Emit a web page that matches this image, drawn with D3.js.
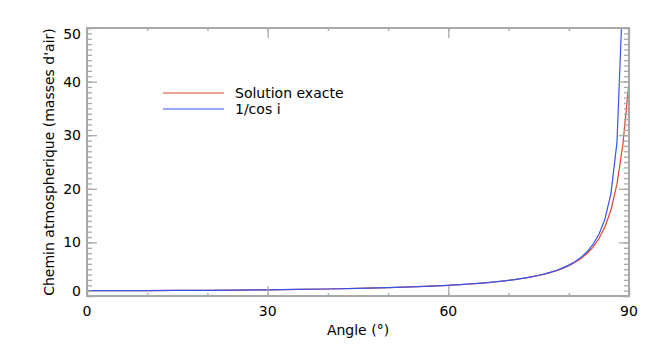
<!DOCTYPE html>
<html>
<head>
<meta charset="utf-8">
<script src="https://cdn.jsdelivr.net/npm/d3@7"></script>
<style>
  body { margin: 0; background: #fff; }
  text { font-family: "DejaVu Sans", sans-serif; fill: #000; }
</style>
</head>
<body>
<div id="chart"></div>
<script>
// angles (degrees) and air mass values
const angles = [0, 5, 10, 15, 20, 25, 30, 35, 40, 45, 50, 55, 60,
  61, 62, 63, 64, 65, 66, 67, 68, 69, 70, 71, 72, 73, 74, 75,
  76, 77, 78, 79, 80, 81, 82, 83, 84, 85, 86, 87, 88, 89, 90];

const exacte = [1.000, 1.004, 1.015, 1.035, 1.064, 1.103, 1.154, 1.220, 1.305, 1.413, 1.554, 1.741, 1.996,
  2.058, 2.125, 2.197, 2.275, 2.359, 2.451, 2.550, 2.659, 2.779, 2.910, 3.055, 3.217, 3.398, 3.601, 3.832,
  4.094, 4.394, 4.746, 5.158, 5.648, 6.243, 6.974, 7.891, 9.082, 10.67, 12.86, 16.05, 20.87, 28.42, 40.0];

const invCos = [1.000, 1.004, 1.015, 1.035, 1.064, 1.103, 1.155, 1.221, 1.305, 1.414, 1.556, 1.743, 2.000,
  2.063, 2.130, 2.203, 2.281, 2.366, 2.459, 2.559, 2.669, 2.790, 2.924, 3.072, 3.236, 3.420, 3.628, 3.864,
  4.134, 4.445, 4.810, 5.241, 5.759, 6.392, 7.185, 8.206, 9.567, 11.47, 14.34, 19.11, 28.65, 57.30];

const seriesNames = ["Solution exacte", "1/cos i"];
const seriesColors = ["#e0442c", "#3355f0"];
const xTicks = [0, 30, 60, 90];
const yTicks = [0, 10, 20, 30, 40, 50];

const W = 655, H = 351;
const margin = {top: 28, right: 26, bottom: 55, left: 87};
const width = W - margin.left - margin.right,
      height = H - margin.top - margin.bottom;

const svg = d3.select("#chart").append("svg")
    .attr("width", W)
    .attr("height", H);

const g = svg.append("g")
    .attr("transform", `translate(${margin.left},${margin.top})`);

const x = d3.scaleLinear().domain([0, 90]).range([0, width]);
const y = d3.scaleLinear().domain([0, 50]).range([height, 0]);

g.append("clipPath").attr("id", "clip")
  .append("rect").attr("width", width).attr("height", height);

const line = d3.line()
    .x((d, i) => x(angles[i]))
    .y(d => y(d));

const series = [exacte, invCos];
series.forEach((vals, k) => {
  g.append("path")
    .datum(vals)
    .attr("clip-path", "url(#clip)")
    .attr("fill", "none")
    .attr("stroke", seriesColors[k])
    .attr("stroke-width", 1.2)
    .attr("d", line);
});

// axes: IDL-like box with ticks on all sides
const axisColor = "#a8a8a8";
function styleAxis(sel) {
  sel.select(".domain").remove();
  sel.selectAll("line").attr("stroke", axisColor).attr("stroke-width", 1.3);
  sel.selectAll("text").remove();
}

const xMinor = d3.range(0, 91, 10);
const yMinor = d3.range(0, 51, 1);

g.append("g").attr("transform", `translate(0,${height})`)
  .call(d3.axisBottom(x).tickValues(xMinor).tickSize(-3)).call(styleAxis);
g.append("g").attr("transform", `translate(0,${height})`)
  .call(d3.axisBottom(x).tickValues(xTicks).tickSize(-10)).call(styleAxis);
g.append("g")
  .call(d3.axisTop(x).tickValues(xMinor).tickSize(-3)).call(styleAxis);
g.append("g")
  .call(d3.axisTop(x).tickValues(xTicks).tickSize(-10)).call(styleAxis);

g.append("g")
  .call(d3.axisLeft(y).tickValues(yMinor).tickSize(-5)).call(styleAxis);
g.append("g")
  .call(d3.axisLeft(y).tickValues(yTicks).tickSize(-10)).call(styleAxis);
g.append("g").attr("transform", `translate(${width},0)`)
  .call(d3.axisRight(y).tickValues(yMinor).tickSize(-5)).call(styleAxis);
g.append("g").attr("transform", `translate(${width},0)`)
  .call(d3.axisRight(y).tickValues(yTicks).tickSize(-10)).call(styleAxis);

g.append("rect")
  .attr("width", width).attr("height", height)
  .attr("fill", "none")
  .attr("stroke", axisColor)
  .attr("stroke-width", 2);

// tick labels
g.selectAll(".xl").data(xTicks).enter().append("text")
  .attr("class", "xl")
  .attr("x", d => x(d))
  .attr("y", height + 20)
  .attr("text-anchor", "middle")
  .style("font-size", "14px")
  .text(d => d);

g.selectAll(".yl").data(yTicks).enter().append("text")
  .attr("class", "yl")
  .attr("x", -6)
  .attr("y", d => Math.min(Math.max(y(d), 6), height - 5))
  .attr("dy", "0.36em")
  .attr("text-anchor", "end")
  .style("font-size", "14px")
  .text(d => d);

// axis titles
g.append("text")
  .attr("x", width / 2)
  .attr("y", height + 39)
  .attr("text-anchor", "middle")
  .style("font-size", "14px")
  .text("Angle (°)");

svg.append("text")
  .attr("transform", `translate(49,${margin.top + height / 2}) rotate(-90)`)
  .attr("text-anchor", "middle")
  .attr("dy", "0.35em")
  .style("font-size", "14px")
  .text("Chemin atmospherique (masses d'air)");

// legend
const legend = svg.append("g").attr("transform", "translate(163,93)");
seriesNames.forEach((name, k) => {
  legend.append("line")
    .attr("x1", 0).attr("x2", 61)
    .attr("y1", k * 16).attr("y2", k * 16)
    .attr("stroke", seriesColors[k])
    .attr("stroke-width", 1.2);
  legend.append("text")
    .attr("x", 72)
    .attr("y", k * 16)
    .attr("dy", "0.35em")
    .style("font-size", "14px")
    .text(name);
});
</script>
</body>
</html>
